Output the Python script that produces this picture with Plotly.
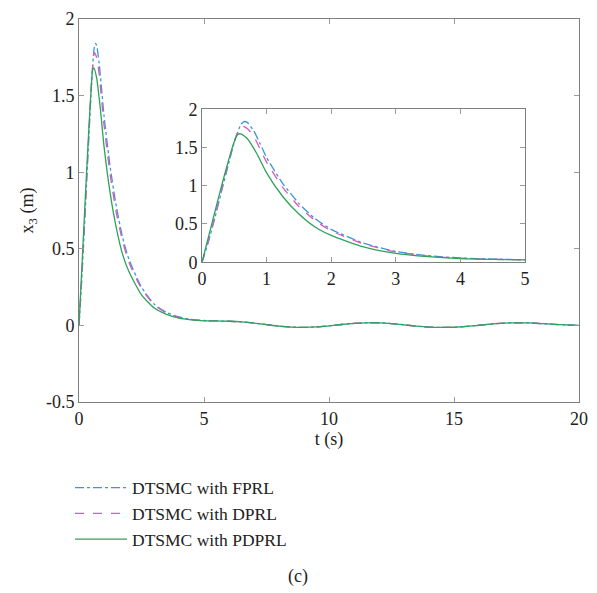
import plotly.graph_objects as go

# Time points (s) and responses x3 (m)
t_fprl = [0, 0.1, 0.2, 0.3, 0.4, 0.5, 0.6, 0.65, 0.7, 0.8, 0.9, 1.0, 1.25, 1.5, 1.75, 2.0, 2.5, 3.0, 3.5, 4.0, 4.5, 5.0]
x_fprl = [0, 0.27, 0.58, 0.92, 1.25, 1.57, 1.80, 1.84, 1.83, 1.72, 1.55, 1.37, 1.03, 0.77, 0.57, 0.43, 0.25, 0.14, 0.085, 0.055, 0.04, 0.032]

t_dprl = [0, 0.1, 0.2, 0.3, 0.4, 0.5, 0.58, 0.62, 0.7, 0.8, 0.9, 1.0, 1.25, 1.5, 1.75, 2.0, 2.5, 3.0, 3.5, 4.0, 4.5, 5.0]
x_dprl = [0, 0.28, 0.60, 0.94, 1.27, 1.58, 1.75, 1.78, 1.75, 1.65, 1.48, 1.31, 0.98, 0.73, 0.545, 0.41, 0.24, 0.135, 0.08, 0.052, 0.038, 0.031]

t_pdprl = [0, 0.1, 0.2, 0.3, 0.4, 0.5, 0.55, 0.6, 0.7, 0.85, 1.0, 1.25, 1.5, 1.75, 2.0, 2.5, 3.0, 3.5, 4.0, 4.5, 5.0]
x_pdprl = [0, 0.33, 0.66, 0.99, 1.30, 1.58, 1.67, 1.68, 1.62, 1.42, 1.17, 0.86, 0.63, 0.46, 0.35, 0.20, 0.115, 0.072, 0.047, 0.036, 0.030]

# Common tail (all three controllers coincide)
t_tail = [5.5, 6, 6.5, 7, 7.5, 8, 8.5, 9, 9.5, 10, 10.5, 11, 11.5, 12, 12.5, 13, 13.5, 14, 14.5, 15, 15.5, 16, 16.5, 17, 17.5, 18, 18.5, 19, 19.5, 20]
x_tail = [0.029, 0.027, 0.023, 0.015, 0.005, -0.005, -0.011, -0.013, -0.01, -0.003, 0.006, 0.013, 0.017, 0.017, 0.012, 0.004, -0.005, -0.011, -0.013, -0.012, -0.007, 0.001, 0.009, 0.015, 0.017, 0.016, 0.012, 0.007, 0.003, 0.0]

names = ["DTSMC with FPRL", "DTSMC with DPRL", "DTSMC with PDPRL"]
colors = ["#3b96da", "#d65cc0", "#2ea35a"]
dashes = ["dashdot", "dash", "solid"]

series = [(t_fprl, x_fprl), (t_dprl, x_dprl), (t_pdprl, x_pdprl)]

FONT = "Liberation Serif"
fig = go.Figure()

for (tt, xx), nm, c, d in zip(series, names, colors, dashes):
    fig.add_trace(go.Scatter(x=tt + t_tail, y=xx + x_tail, mode="lines", name=nm,
                             line=dict(color=c, dash=d, width=1.3, shape="spline", smoothing=0.6),
                             xaxis="x", yaxis="y"))
for (tt, xx), nm, c, d in zip(series, names, colors, dashes):
    fig.add_trace(go.Scatter(x=tt, y=xx, mode="lines", name=nm, showlegend=False,
                             line=dict(color=c, dash=d, width=1.3, shape="spline", smoothing=0.6),
                             xaxis="x2", yaxis="y2"))

axcommon = dict(showline=True, linecolor="#7f7f7f", linewidth=1, mirror="allticks",
                ticks="inside", ticklen=5, tickcolor="#9a9a9a", showgrid=False, zeroline=False,
                tickfont=dict(family=FONT, size=18, color="#222"))

L = 79
fig.update_layout(
    width=597, height=593,
    margin=dict(l=L, r=9, t=16, b=191),
    paper_bgcolor="white", plot_bgcolor="white",
    font=dict(family=FONT, size=18, color="#222"),
    xaxis=dict(range=[0, 20], tickvals=[0, 5, 10, 15, 20], domain=[0, 1],
               title=dict(text="t (s)", standoff=4, font=dict(family=FONT, size=18)), **axcommon),
    yaxis=dict(range=[-0.5, 2], tickvals=[-0.5, 0, 0.5, 1, 1.5, 2], ticktext=["-0.5", "0", "0.5", "1", "1.5", "2"],
               domain=[0, 1], title=dict(text="x<sub>3</sub> (m)", standoff=7, font=dict(family=FONT, size=18)),
               **axcommon),
    xaxis2=dict(range=[0, 5], tickvals=[0, 1, 2, 3, 4, 5], domain=[(202 - L) / 500, (525 - L) / 500],
                anchor="y2", **axcommon),
    yaxis2=dict(range=[0, 2], tickvals=[0, 0.5, 1, 1.5, 2], ticktext=["0", "0.5", "1", "1.5", "2"],
                domain=[0.365, 0.764], anchor="x2", **axcommon),
    legend=dict(x=(70 - L) / 500, y=-0.177, xanchor="left", yanchor="top", bgcolor="rgba(0,0,0,0)",
                font=dict(family=FONT, size=17.5, color="#222"), tracegroupgap=0, itemwidth=52),
    showlegend=True,
    annotations=[dict(text="(c)", x=(298 - L) / 500, y=-0.456, xref="paper", yref="paper", showarrow=False,
                      yanchor="middle", xanchor="center",
                      font=dict(family=FONT, size=18, color="#222"))],
)

fig.write_html("out.html")
